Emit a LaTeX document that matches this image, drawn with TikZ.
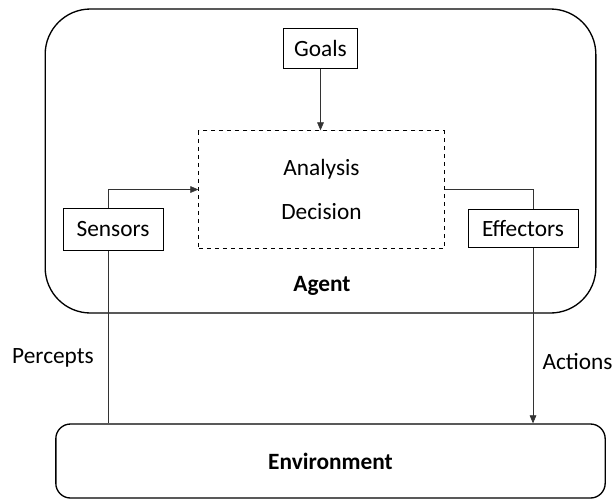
\documentclass[tikz,border=0pt]{standalone}
\usepackage{fontspec}
\setmainfont{Carlito}
\usetikzlibrary{arrows.meta}

\tikzset{every picture/.style={line width=0.75pt}}
\tikzset{
	box/.style={draw, line width=0.75pt, inner sep=0pt},
	bigbox/.style={draw, line width=1pt, inner sep=0pt},
	link/.style={draw=black!80, line width=0.5pt},
	tip/.style={-{Triangle[length=6pt,width=5pt]}},
	txt/.style={font=\fontsize{17.5}{21}\selectfont}
}

\begin{document}
\begin{tikzpicture}[x=0.75pt,y=0.75pt,yscale=-1,xscale=1]
	\useasboundingbox (0,0) rectangle (614,501);

	%Shape: Rounded Rect (agent)
	\node (agent) [bigbox, rounded corners=34pt, minimum width=413pt, minimum height=228pt] at (320.5,161) {};
	%Shape: Rounded Rect (environment)
	\node (env) [bigbox, rounded corners=11pt, minimum width=412pt, minimum height=55.5pt, txt] at (330.5,461) {\bfseries Environment};

	%Shape: Rect
	\node (goals) [box, txt, minimum width=56pt, minimum height=30pt] at (320.5,48) {Goals};
	%Shape: Rect (dashed)
	\node (dash) [box, dashed, align=center, minimum width=184pt, minimum height=88pt, font=\fontsize{17.5}{33}\selectfont] at (321.5,189.5) {Analysis\\Decision};
	%Shape: Rect
	\node (sens) [box, txt, minimum width=75pt, minimum height=31pt] at (113,229.5) {Sensors};
	%Shape: Rect
	\node (effe) [box, txt, minimum width=82.5pt, minimum height=29pt] at (523,228.5) {Effectors};

	%Straight Lines
	\draw [link, tip] (goals.south) -- (goals.south |- dash.north);
	\draw [link, tip] ([xshift=-3.75pt]sens.north) |- (dash.west);
	\draw [link] (dash.east) -| ([xshift=7.5pt]effe.north);
	\draw [link] ([xshift=-3.75pt]sens.south) -- ([xshift=-3.75pt]sens.south |- env.north);
	\draw [link, tip] ([xshift=7.5pt]effe.south) -- ([xshift=7.5pt]effe.south |- env.north);

	% Text Node
	\node (agentlbl) [txt] at (322,286) {\bfseries Agent};
	% Text Node
	\node (perc) [txt] at (53,358) {Percepts};
	% Text Node
	\node (act) [txt, anchor=west, inner sep=0pt] at (542,362) {Actions};

\end{tikzpicture}
\end{document}
